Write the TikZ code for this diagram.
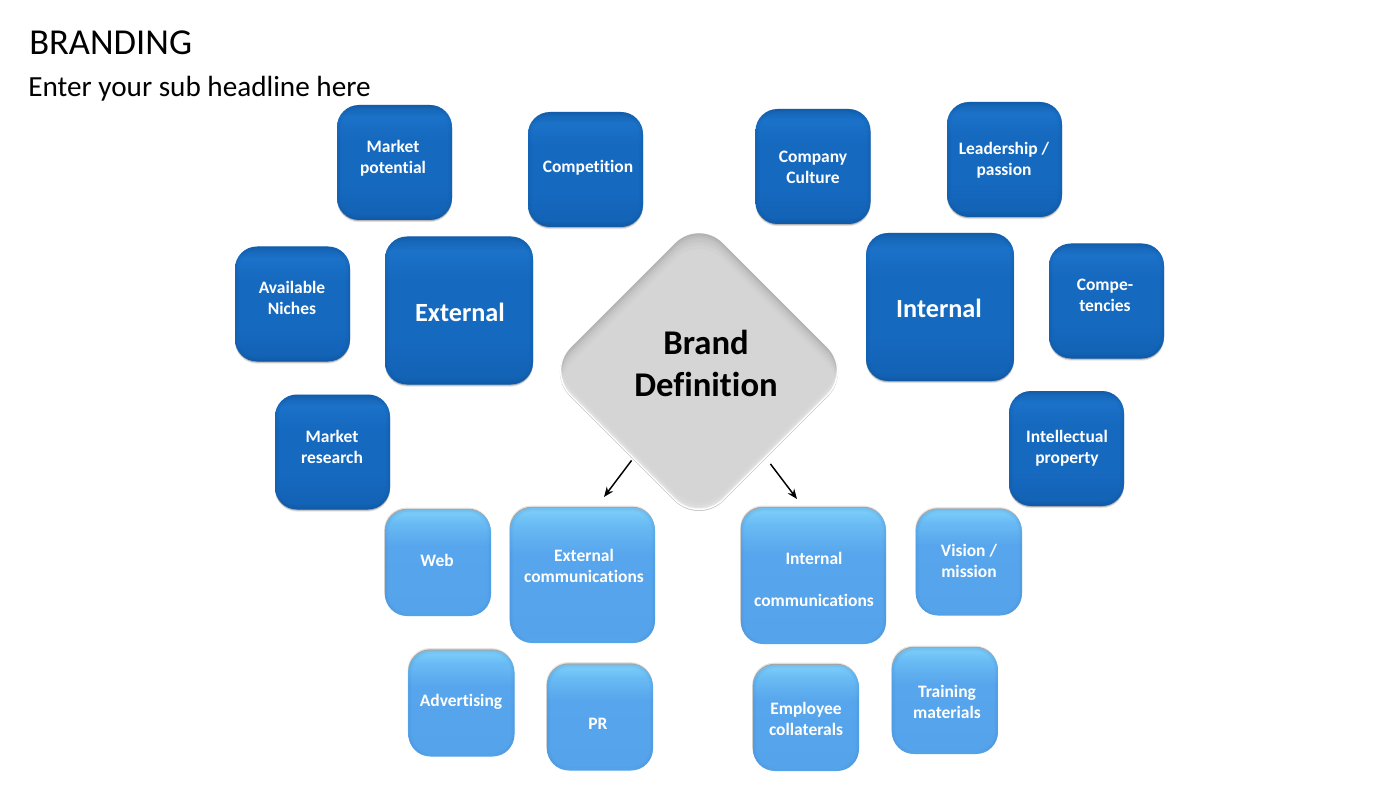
\documentclass[tikz,border=0pt]{standalone}
\usepackage{fontspec}
\setmainfont{Carlito}[Ligatures=NoCommon]
\usetikzlibrary{shadows,arrows.meta}

\definecolor{darkEdge}{HTML}{0B4E96}
\definecolor{lightEdge}{HTML}{3C86CC}
\definecolor{brandGrey}{HTML}{D5D5D5}
\definecolor{darkA}{HTML}{115EAC}
\definecolor{darkB}{HTML}{1363B6}
\definecolor{darkC}{HTML}{1569BF}
\definecolor{darkD}{HTML}{1B72C8}
\definecolor{darkE}{HTML}{1462B2}
\definecolor{lightA}{HTML}{5CAEF0}
\definecolor{lightB}{HTML}{55A3EA}
\definecolor{lightC}{HTML}{57A5EC}
\definecolor{lightD}{HTML}{69BBF4}
\definecolor{lightE}{HTML}{7ED0FA}

\pgfdeclareverticalshading{darkface}{100bp}{color(0bp)=(darkA); color(25bp)=(darkA); color(28bp)=(darkB); color(40bp)=(darkC); color(60bp)=(darkC); color(70bp)=(darkD); color(75bp)=(darkE); color(100bp)=(darkE)}
\pgfdeclareverticalshading{lightface}{100bp}{color(0bp)=(lightA); color(25bp)=(lightA); color(27bp)=(lightB); color(58bp)=(lightC); color(69bp)=(lightD); color(75bp)=(lightE); color(100bp)=(lightE)}

\newcommand{\edgeglow}[2]{%
  \draw [#1, opacity=0.08, line width=#2] (path picture bounding box.south west) rectangle (path picture bounding box.north east);
  \draw [#1, opacity=0.12, line width=0.5*#2] (path picture bounding box.south west) rectangle (path picture bounding box.north east);}
\newcommand{\brandoutline}[1]{([shift={(0,#1)}]brandface.south west) -- ([shift={(0,#1)}]brandface.south east) -- ([shift={(0,#1)}]brandface.north east) -- ([shift={(0,#1)}]brandface.north west) -- cycle}

\tikzset{
  darkshadow/.style={drop shadow={shadow xshift=0pt, shadow yshift=-1.6pt, opacity=0.10, fill=black},
    drop shadow={shadow xshift=0pt, shadow yshift=-0.8pt, opacity=0.22, fill=black}},
  lightshadow/.style={drop shadow={shadow xshift=-0.6pt, shadow yshift=1.8pt, opacity=0.10, fill=black},
    drop shadow={shadow xshift=-0.3pt, shadow yshift=0.9pt, opacity=0.28, fill=black}},
  darkbox/.style={rounded corners=16.5, darkshadow, shading=darkface,
    path picture={\edgeglow{darkEdge, rounded corners=16.5}{6pt}}, inner sep=0pt},
  lightbox/.style={rounded corners=16.5, lightshadow, shading=lightface,
    path picture={\edgeglow{lightEdge, rounded corners=16.5}{5pt}}, inner sep=0pt},
  boxtext/.style={text=white, align=center, inner sep=0pt, font=\bfseries\fontsize{13.1}{15.8}\selectfont},
  bigtext/.style={text=white, align=center, inner sep=0pt, font=\bfseries\fontsize{19.7}{23}\selectfont},
  arrowline/.style={-{Stealth[length=7.5pt,width=6pt]}, line width=1.1pt, black},
  brandband/.style={even odd rule, rounded corners=25}
}

\begin{document}
\begin{tikzpicture}[x=0.75pt,y=0.75pt,yscale=-1,xscale=1]
\useasboundingbox (0,0) rectangle (1400,788);

% Headline
\node [anchor=base west, inner sep=0pt, font=\fontsize{27.4}{32}\selectfont] (headline) at (29,54.5) {BRANDING};
\node [anchor=base west, inner sep=0pt, font=\fontsize{21.9}{26}\selectfont] (subhead) at (28,96.5) {Enter your sub headline here};

% Dark boxes
\node [darkbox, minimum size=86.25pt] (marketpot) at (394.5,162.5) {};
\node [darkbox, minimum size=86.25pt] (competition) at (585.5,169.5) {};
\node [darkbox, minimum size=86.25pt] (culture) at (813,166.5) {};
\node [darkbox, minimum size=86.25pt] (leadership) at (1004.5,159.5) {};
\node [darkbox, minimum size=86.25pt] (niches) at (292.5,304) {};
\node [darkbox, minimum size=86.25pt] (compe) at (1106.5,301) {};
\node [darkbox, minimum size=86.25pt] (research) at (332.5,452) {};
\node [darkbox, minimum size=86.25pt] (property) at (1066.5,448.5) {};
\node [darkbox, minimum size=111pt] (external) at (459,310.5) {};
\node [darkbox, minimum size=111pt] (internal) at (940,307) {};

% Light boxes
\node [lightbox, minimum size=79.5pt] (web) at (438,563) {};
\node [lightbox, minimum width=108.75pt, minimum height=101.25pt] (extcomm) at (582.5,575.5) {};
\node [lightbox, minimum width=108.75pt, minimum height=102pt] (intcomm) at (813.5,576) {};
\node [lightbox, minimum size=79.5pt] (vision) at (969,562.5) {};
\node [lightbox, minimum size=79.5pt] (advertising) at (461.5,703.5) {};
\node [lightbox, minimum size=79.5pt] (pr) at (600,717.5) {};
\node [lightbox, minimum size=79.5pt] (employee) at (806,718) {};
\node [lightbox, minimum size=79.5pt] (training) at (945,701) {};

% Diamond
\node [rotate=45, minimum size=162.75pt, inner sep=0pt, rounded corners=26, fill=white,
  drop shadow={shadow xshift=0pt, shadow yshift=-0.7pt, opacity=0.22, fill=black}] (branddiamond) at (699,371) {};
\node [rotate=45, minimum size=160.5pt, inner sep=0pt, rounded corners=25, fill=brandGrey] (brandface) at (699,371) {};
\begin{scope}
\clip [rounded corners=25] \brandoutline{0};
\fill [brandband, black, opacity=0.035] (540,210) rectangle (860,530) \brandoutline{2};
\fill [brandband, black, opacity=0.035] (540,210) rectangle (860,530) \brandoutline{4};
\fill [brandband, black, opacity=0.03] (540,210) rectangle (860,530) \brandoutline{6};
\fill [brandband, black, opacity=0.025] (540,210) rectangle (860,530) \brandoutline{9};
\fill [brandband, black, opacity=0.02] (540,210) rectangle (860,530) \brandoutline{12};
\fill [brandband, black, opacity=0.015] (540,210) rectangle (860,530) \brandoutline{16};
\fill [brandband, white, opacity=0.2] (540,210) rectangle (860,530) \brandoutline{-2};
\fill [brandband, white, opacity=0.12] (540,210) rectangle (860,530) \brandoutline{-4};
\fill [brandband, white, opacity=0.08] (540,210) rectangle (860,530) \brandoutline{-7};
\end{scope}

% Arrows
\coordinate (exthead) at (604,497);
\coordinate (inthead) at (797,499);
\draw [arrowline] ([shift={(9.5,12.5)}]branddiamond.west) -- (exthead);
\draw [arrowline] ([shift={(-5.5,16)}]branddiamond.south) -- (inthead);

% Text Node
\node [boxtext] (marketpottext) at (393,158) {Market\\potential};
\node [boxtext] (competitiontext) at (588,168) {Competition};
\node [boxtext] (culturetext) at (813,167.5) {Company\\Culture};
\node [boxtext] (leadershiptext) at (1004,160) {Leadership /\\passion};
\node [boxtext] (nichestext) at (292,298) {Available\\Niches};
\node [boxtext] (competext) at (1105,295) {Compe-\\tencies};
\node [boxtext] (researchtext) at (332,447) {Market\\research};
\node [boxtext] (propertytext) at (1067,448) {Intellectual\\property};
\node [bigtext] (externaltext) at (460,312) {External};
\node [bigtext] (internaltext) at (939,308) {Internal};
\node [boxtext] (webtext) at (437,560) {Web};
\node [boxtext] (extcommtext) at (584,566) {External\\communications};
\node [boxtext] (intcommtext) at (814,579.5) {Internal\\[15.75pt]communications};
\node [boxtext] (visiontext) at (969,561) {Vision /\\mission};
\node [boxtext] (advertisingtext) at (461,702) {Advertising};
\node [boxtext] (prtext) at (598,724) {PR};
\node [boxtext] (employeetext) at (806,719) {Employee\\collaterals};
\node [boxtext] (trainingtext) at (947,702) {Training\\materials};
\node [align=center, inner sep=0pt, font=\bfseries\fontsize{26}{31.5}\selectfont] (brandtext) at (706,363) {Brand\\Definition};
\end{tikzpicture}
\end{document}
